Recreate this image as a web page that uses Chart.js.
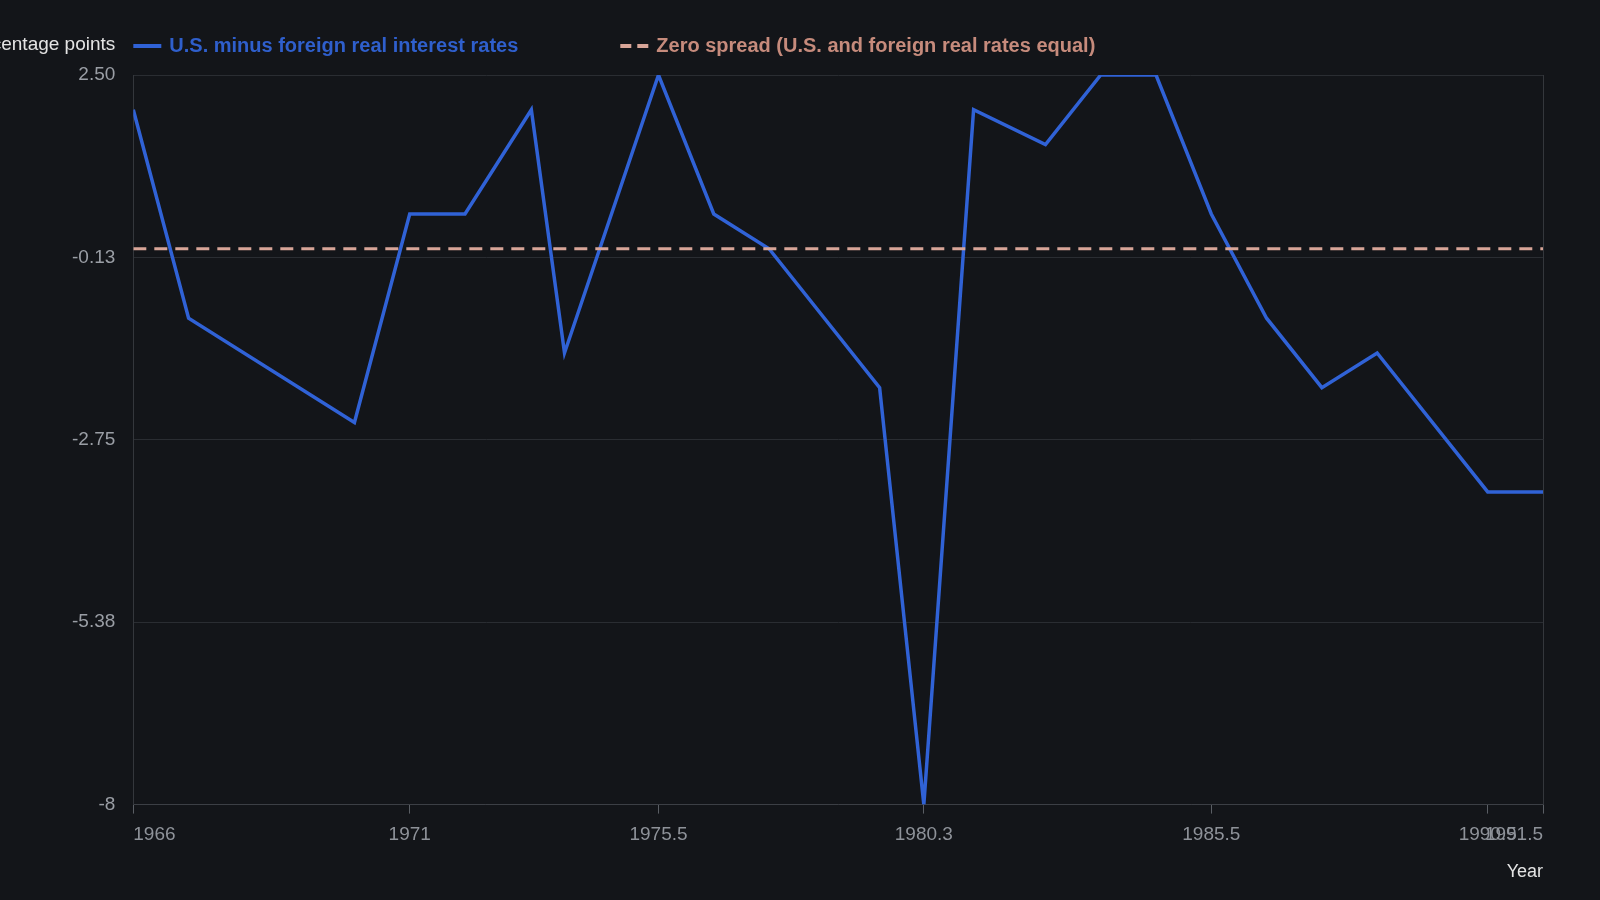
<!DOCTYPE html>
<html>
<head>
<meta charset="utf-8">
<title>U.S. minus foreign real interest rates</title>
<script src="https://cdn.jsdelivr.net/npm/chart.js@4.4.1/dist/chart.umd.min.js"></script>
<style>
  html, body { margin: 0; padding: 0; background: #131519; }
  #wrap { width: 1600px; height: 900px; }
</style>
</head>
<body>
<div id="wrap"><canvas id="spreadChart"></canvas></div>
<script>
// Data
const years = [1966, 1967, 1970, 1971, 1972, 1973.2, 1973.8, 1975.5, 1976.5, 1977.5, 1979.5,
               1980.3, 1981.2, 1982.5, 1983.5, 1984.5, 1985.5, 1986.5, 1987.5, 1988.5, 1990.5, 1991.5];
const spread = [2.0, -1.0, -2.5, 0.5, 0.5, 2.0, -1.5, 2.5, 0.5, 0, -2.0,
                -8, 2.0, 1.5, 2.5, 2.5, 0.5, -1.0, -2.0, -1.5, -3.5, -3.5];
const zeroYears = [1966, 1991.5];
const zeroValues = [0, 0];

const xTicks = [1966, 1971, 1975.5, 1980.3, 1985.5, 1990.5, 1991.5];
const yTicks = [-8, -5.375, -2.75, -0.125, 2.5];
const yTickLabels = ['-8', '-5.38', '-2.75', '-0.13', '2.50'];

const yTitle = 'Percentage points';
const xTitle = 'Year';

const FONT = '"Liberation Sans", Arial, Helvetica, sans-serif';
const gridColor = '#2a2d32';

// Draws the horizontal y title, the legend row and the right edge of the plot
const headerPlugin = {
    id: 'header',
    beforeDatasetsDraw(chart) {
        const { ctx, chartArea } = chart;
        ctx.save();
        ctx.strokeStyle = '#34373c';
        ctx.lineWidth = 1;
        ctx.beginPath();
        ctx.moveTo(chartArea.right + 0.5, chartArea.top);
        ctx.lineTo(chartArea.right + 0.5, chartArea.bottom);
        ctx.stroke();
        ctx.restore();
    },
    afterDraw(chart) {
        const { ctx, chartArea } = chart;
        const y = 46;
        ctx.save();
        ctx.textBaseline = 'middle';

        ctx.font = '19px ' + FONT;
        ctx.fillStyle = '#e4e4e4';
        ctx.textAlign = 'right';
        ctx.fillText(yTitle, chartArea.left - 18, y - 1);

        ctx.font = 'bold 20px ' + FONT;
        ctx.textAlign = 'left';
        let x = chartArea.left;
        chart.data.datasets.forEach(ds => {
            ctx.strokeStyle = ds.borderColor;
            ctx.lineWidth = 4;
            ctx.setLineDash(ds.legendDash || []);
            ctx.beginPath();
            ctx.moveTo(x, y);
            ctx.lineTo(x + 28, y);
            ctx.stroke();
            ctx.fillStyle = ds.legendColor;
            ctx.fillText(ds.label, x + 36, y);
            x += 36 + ctx.measureText(ds.label).width + 102;
        });
        ctx.restore();
    }
};

new Chart(document.getElementById('spreadChart'), {
    type: 'line',
    data: {
        datasets: [{
            label: 'U.S. minus foreign real interest rates',
            data: years.map((yr, i) => ({ x: yr, y: spread[i] })),
            borderColor: '#3062d6',
            legendColor: '#2f5fcc',
            borderWidth: 3.5,
            pointRadius: 0,
            tension: 0,
            order: 2
        }, {
            label: 'Zero spread (U.S. and foreign real rates equal)',
            data: zeroYears.map((yr, i) => ({ x: yr, y: zeroValues[i] })),
            borderColor: '#d8a598',
            legendColor: '#c68b7c',
            borderWidth: 3,
            borderDash: [13, 8],
            legendDash: [11, 6],
            pointRadius: 0,
            order: 1
        }]
    },
    options: {
        responsive: true,
        maintainAspectRatio: false,
        animation: false,
        layout: { padding: { top: 75, left: 54, right: 57, bottom: 17 } },
        plugins: {
            legend: { display: false },
            tooltip: { enabled: false }
        },
        scales: {
            x: {
                type: 'linear',
                min: 1966,
                max: 1991.5,
                afterBuildTicks: axis => { axis.ticks = xTicks.map(v => ({ value: v })); },
                ticks: {
                    autoSkip: false,
                    maxRotation: 0,
                    align: 'inner',
                    padding: 10,
                    color: '#8e9299',
                    font: { family: FONT, size: 19 },
                    callback: value => String(value)
                },
                grid: {
                    drawOnChartArea: false,
                    drawTicks: true,
                    tickLength: 9,
                    color: '#5a5e64'
                },
                border: { color: '#3c3f45' },
                title: {
                    display: true,
                    text: xTitle,
                    align: 'end',
                    color: '#e4e4e4',
                    font: { family: FONT, size: 18 },
                    padding: { top: 5, bottom: 0 }
                }
            },
            y: {
                min: -8,
                max: 2.5,
                afterBuildTicks: axis => { axis.ticks = yTicks.map(v => ({ value: v })); },
                ticks: {
                    padding: 18,
                    color: '#9a9ea5',
                    font: { family: FONT, size: 19 },
                    callback: (value, index) => yTickLabels[index]
                },
                grid: {
                    color: gridColor,
                    drawTicks: false
                },
                border: { color: '#34373c' }
            }
        }
    },
    plugins: [headerPlugin]
});
</script>
</body>
</html>
